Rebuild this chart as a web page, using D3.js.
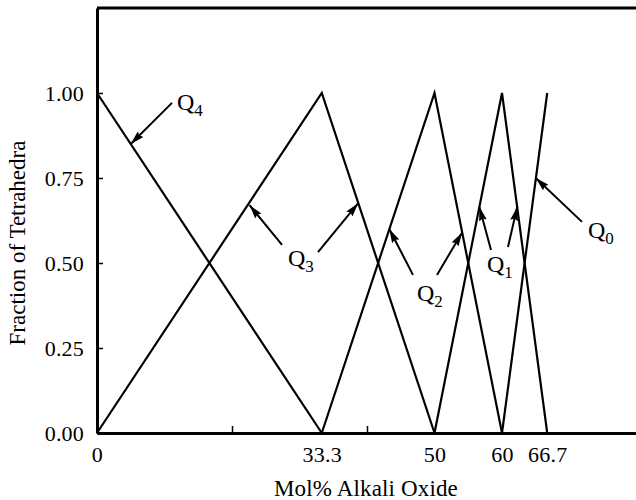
<!DOCTYPE html>
<html>
<head>
<meta charset="utf-8">
<script src="https://cdn.jsdelivr.net/npm/d3@7/dist/d3.min.js"></script>
<style>
  html, body { margin: 0; padding: 0; background: #fff; }
  svg { display: block; }
  text { font-family: "Liberation Serif", "Times New Roman", serif; fill: #000; }
</style>
</head>
<body>
<svg id="chart" width="636" height="500"></svg>
<script>
// Qn speciation in alkali silicate glasses vs. alkali oxide content
const labelTicksX = [0, 33.3, 50, 60, 66.7];
const labelTicksXText = ["0", "33.3", "50", "60", "66.7"];
const minorTicksX = [20, 40];
const ticksY = [0, 0.25, 0.5, 0.75, 1.0];
const ticksYText = ["0.00", "0.25", "0.50", "0.75", "1.00"];

// Each species rises and falls linearly between the critical compositions
const q4 = [[0, 1], [33.3, 0]];
const q3 = [[0, 0], [33.3, 1], [50, 0]];
const q2 = [[33.3, 0], [50, 1], [60, 0]];
const q1 = [[50, 0], [60, 1], [66.7, 0]];
const q0 = [[60, 0], [66.7, 1]];
const series = [q4, q3, q2, q1, q0];

// Species labels: [subscript, label x, label y] in data units
const speciesLabels = [
  ["4", 11.85, 0.95],
  ["3", 28.3, 0.491],
  ["2", 47.4, 0.388],
  ["1", 57.78, 0.474],
  ["0", 72.74, 0.574]
];
// Pointer arrows: [from x, from y, to x, to y] in data units
const pointers = [
  [11.11, 0.971, 5.0, 0.85],
  [27.41, 0.553, 22.6, 0.67],
  [32.74, 0.532, 38.7, 0.676],
  [46.81, 0.465, 43.3, 0.6],
  [50.37, 0.465, 54.1, 0.59],
  [58.37, 0.538, 56.65, 0.665],
  [60.89, 0.547, 62.25, 0.665],
  [71.85, 0.621, 65.0, 0.75]
];

const svg = d3.select("#chart");
const plotLeft = 97, plotRight = 637, plotTop = 8, plotBottom = 433;

const x = d3.scaleLinear().domain([0, 80]).range([plotLeft, plotRight]);
const y = d3.scaleLinear().domain([0, 1.25]).range([plotBottom, plotTop]);

// Frame top edge
svg.append("line")
  .attr("x1", plotLeft).attr("x2", 636)
  .attr("y1", plotTop).attr("y2", plotTop)
  .attr("stroke", "#000").attr("stroke-width", 3);

// Y axis with inward ticks
const yAxis = svg.append("g")
  .attr("transform", `translate(${plotLeft},0)`)
  .call(d3.axisLeft(y)
    .tickValues(ticksY)
    .tickFormat((d, i) => ticksYText[i])
    .tickSizeInner(-6)
    .tickSizeOuter(0)
    .tickPadding(13));
yAxis.select(".domain").attr("stroke-width", 3);
yAxis.selectAll(".tick line").attr("stroke-width", 1.5);
yAxis.selectAll(".tick text")
  .attr("font-size", 22)
  .attr("font-family", "Liberation Serif")
  .attr("letter-spacing", 0.2)
  .attr("fill", "#000");

// X axis: labelled critical compositions
const xAxis = svg.append("g")
  .attr("transform", `translate(0,${plotBottom})`)
  .call(d3.axisBottom(x)
    .tickValues(labelTicksX)
    .tickFormat((d, i) => labelTicksXText[i])
    .tickSizeInner(0)
    .tickSizeOuter(0)
    .tickPadding(13));
xAxis.select(".domain").attr("stroke-width", 3);
xAxis.selectAll(".tick text")
  .attr("font-size", 22)
  .attr("font-family", "Liberation Serif")
  .attr("letter-spacing", 0.3)
  .attr("fill", "#000");

// X axis: unlabelled minor ticks pointing inward
const xMinor = svg.append("g")
  .attr("transform", `translate(0,${plotBottom})`)
  .call(d3.axisBottom(x)
    .tickValues(minorTicksX)
    .tickFormat("")
    .tickSizeInner(-7)
    .tickSizeOuter(0));
xMinor.select(".domain").remove();
xMinor.selectAll(".tick line").attr("stroke-width", 1.5);

// Axis titles
svg.append("text")
  .attr("x", 366).attr("y", 496)
  .attr("text-anchor", "middle")
  .attr("font-size", 23)
  .attr("letter-spacing", 0.15)
  .text("Mol% Alkali Oxide");

svg.append("text")
  .attr("transform", "translate(25,243) rotate(-90)")
  .attr("text-anchor", "middle")
  .attr("font-size", 23)
  .text("Fraction of Tetrahedra");

// Species curves
const line = d3.line().x(d => x(d[0])).y(d => y(d[1]));
svg.append("g").selectAll("path")
  .data(series)
  .join("path")
  .attr("d", line)
  .attr("fill", "none")
  .attr("stroke", "#000")
  .attr("stroke-width", 2.2)
  .attr("stroke-linejoin", "miter");

// Arrowhead marker: slender filled triangle
svg.append("defs").append("marker")
  .attr("id", "head")
  .attr("viewBox", "0 0 14 8")
  .attr("refX", 14).attr("refY", 4)
  .attr("markerUnits", "userSpaceOnUse")
  .attr("markerWidth", 14).attr("markerHeight", 8)
  .attr("orient", "auto")
  .append("path")
  .attr("d", "M0,0 L14,4 L0,8 L2,4 Z")
  .attr("fill", "#000");

svg.append("g").selectAll("line")
  .data(pointers)
  .join("line")
  .attr("x1", d => x(d[0])).attr("y1", d => y(d[1]))
  .attr("x2", d => x(d[2])).attr("y2", d => y(d[3]))
  .attr("stroke", "#000")
  .attr("stroke-width", 2)
  .attr("marker-end", "url(#head)");

// Species labels Qn
const lbl = svg.append("g").selectAll("text")
  .data(speciesLabels)
  .join("text")
  .attr("x", d => x(d[1]))
  .attr("y", d => y(d[2]))
  .attr("font-size", 24);
lbl.append("tspan").text("Q");
lbl.append("tspan")
  .attr("font-size", 17)
  .attr("dy", 6)
  .text(d => d[0]);
</script>
</body>
</html>
